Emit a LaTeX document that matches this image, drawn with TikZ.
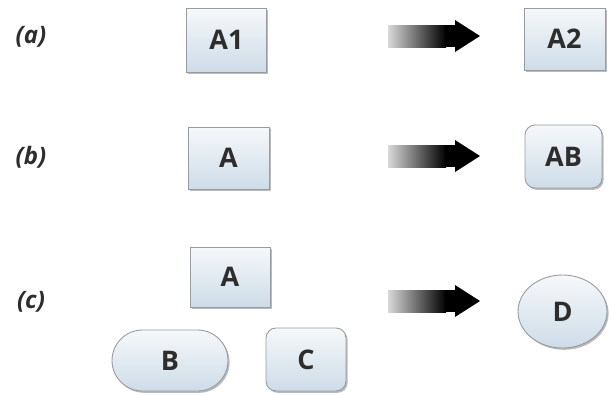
\documentclass[tikz,border=0pt]{standalone}
\usepackage{fontspec}
\setmainfont{Open Sans}
\usetikzlibrary{shapes.misc,shapes.geometric,shadows}
\definecolor{boxtop}{RGB}{246,248,250}
\definecolor{boxbot}{RGB}{206,220,232}
\definecolor{boxline}{RGB}{150,156,162}
\definecolor{ink}{RGB}{45,45,45}
\tikzset{
  panel/.style={draw=boxline, line width=0.9pt, top color=boxtop, bottom color=boxbot,
    inner sep=0pt, text=ink, font=\fontsize{27}{27}\selectfont\bfseries,
    drop shadow={shadow xshift=1.6pt, shadow yshift=-1.8pt, opacity=0.45, fill=black!60}},
  sqbox/.style={panel, rectangle},
  rbox/.style={panel, rectangle, rounded corners=10pt},
  pill/.style={panel, rounded rectangle},
  oval/.style={panel, ellipse},
  tag/.style={text=ink, font=\fontsize{24}{24}\selectfont\bfseries\itshape, inner sep=0pt}
}
% block arrow whose shaft fades from light grey to black
\newcommand{\fadearrow}[1]{%
  \shade[left color=black!15, right color=black]
    (388,#1-11) rectangle (446,#1+11);
  \fill[black] (445,#1-11) rectangle (456,#1+11);
  \fill[black] (455,#1-16) -- (480,#1) -- (455,#1+16) -- cycle;
}
\begin{document}
\begin{tikzpicture}[x=1pt, y=-1pt]
  \useasboundingbox (0,0) rectangle (609,394);

  % row (a)
  \node[tag] (la) at (31,37) {(a)};
  \node[sqbox, minimum width=80pt, minimum height=64pt] (a1) at (226.5,40) {A1};
  \fadearrow{36}
  \node[sqbox, minimum width=81pt, minimum height=62pt] (a2) at (564.5,39) {A2};

  % row (b)
  \node[tag] (lb) at (31,157) {(b)};
  \node[sqbox, minimum width=81pt, minimum height=62pt] (b1) at (228.5,158) {A};
  \fadearrow{156}
  \node[rbox, minimum width=77pt, minimum height=63pt] (ab) at (563.5,156.5) {AB};

  % row (c)
  \node[tag] (lc) at (31,302) {(c)};
  \node[sqbox, minimum width=80pt, minimum height=60pt] (c1) at (230,277) {A};
  \node[pill, minimum width=116pt, minimum height=61pt] (cb) at (170,360.5) {B};
  \node[rbox, minimum width=80pt, minimum height=63pt] (cc) at (306,359.5) {C};
  \fadearrow{301}
  \node[oval, minimum width=89pt, minimum height=73pt] (cd) at (562.5,311.5) {D};
\end{tikzpicture}
\end{document}
